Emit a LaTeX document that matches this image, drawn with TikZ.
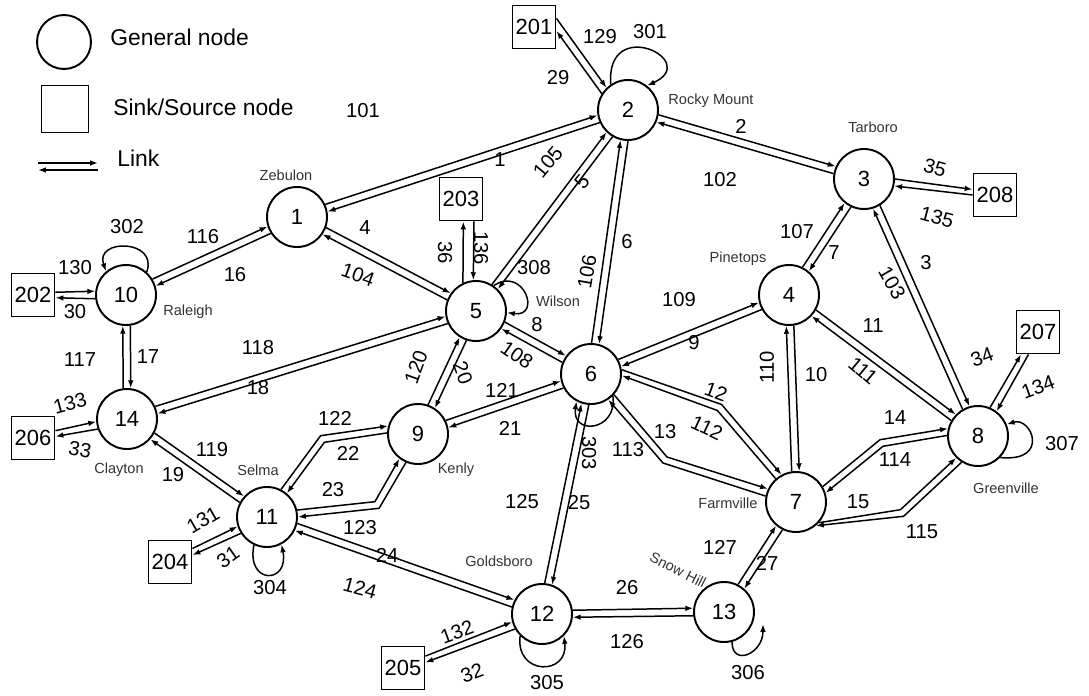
\documentclass[tikz,border=0pt]{standalone}
\usepackage{fontspec}
\setmainfont{Liberation Sans}
\usetikzlibrary{arrows.meta,calc}

\begin{document}
\begin{tikzpicture}[x=0.02cm,y=0.02cm,>={Latex[length=4.5pt,width=3.2pt]},
  town/.style={circle,draw,line width=1.1pt,minimum size=1.2cm,inner sep=0pt,font=\fontsize{12.5}{15}\selectfont},
  sink/.style={rectangle,draw,line width=1.1pt,minimum size=0.86cm,inner sep=0pt,font=\fontsize{12.5}{15}\selectfont},
  link/.style={->,line width=0.85pt},
  flow/.style={inner sep=0pt,font=\fontsize{11.5}{14}\selectfont},
  city/.style={inner sep=0pt,text=black!80,font=\fontsize{8.3}{10}\selectfont},
  key/.style={anchor=west,inner sep=0pt,font=\fontsize{13}{16}\selectfont}]
  \useasboundingbox (0,0) rectangle (1089,-696);

  \node[town,minimum size=1.08cm] (keytown) at (64,-42) {};
  \node[key] (keytowntxt) at (110,-37) {General node};
  \node[sink,minimum size=0.94cm] (keysink) at (65,-109) {};
  \node[key] (keysinktxt) at (113,-107) {Sink/Source node};
  \coordinate (keyA) at (38,-163); \coordinate (keyB) at (98,-163);
  \coordinate (keyC) at (38,-170); \coordinate (keyD) at (98,-170);
  \draw[link] (keyA) -- (keyB);
  \draw[link] (keyD) -- (keyC);
  \node[key] (keylinktxt) at (117,-158) {Link};

  \node[town] (n1) at (297,-217) {1};
  \node[town] (n2) at (628,-110) {2};
  \node[town] (n3) at (864,-179) {3};
  \node[town] (n4) at (789,-295) {4};
  \node[town] (n5) at (476,-311) {5};
  \node[town] (n6) at (591,-374) {6};
  \node[town] (n7) at (796,-502) {7};
  \node[town] (n8) at (978,-436) {8};
  \node[town] (n9) at (418,-434) {9};
  \node[town] (n10) at (126,-295) {10};
  \node[town] (n11) at (267,-517) {11};
  \node[town] (n12) at (542,-614) {12};
  \node[town] (n13) at (724,-612) {13};
  \node[town] (n14) at (127,-419) {14};
  \node[sink] (s201) at (534,-27) {201};
  \node[sink] (s202) at (33,-295) {202};
  \node[sink] (s203) at (461,-199) {203};
  \node[sink] (s204) at (170,-562) {204};
  \node[sink] (s205) at (403,-668) {205};
  \node[sink] (s206) at (33,-438) {206};
  \node[sink] (s207) at (1038,-332) {207};
  \node[sink] (s208) at (995,-195) {208};

  \node[city] (zebulon) at (286,-175) {Zebulon};
  \node[city] (rocky) at (711,-101) {Rocky Mount};
  \node[city] (tarboro) at (873,-127) {Tarboro};
  \node[city] (pinetops) at (738,-259) {Pinetops};
  \node[city] (wilson) at (558,-301) {Wilson};
  \node[city] (raleigh) at (188,-312) {Raleigh};
  \node[city] (clayton) at (119,-470) {Clayton};
  \node[city] (selma) at (258,-470) {Selma};
  \node[city] (kenly) at (456,-470) {Kenly};
  \node[city] (goldsboro) at (499,-561) {Goldsboro};
  \node[city,rotate=-27] (snowhill) at (678,-570) {Snow Hill};
  \node[city] (farmville) at (728,-503) {Farmville};
  \node[city] (greenville) at (1006,-488) {Greenville};

  \foreach \ta/\tb in {n1/n2,n2/n3,n2/n5,n2/n6,n3/n4,n3/n8,n3/s208,n1/n10,n1/n5,
      n10/s202,n10/n14,n14/n5,n14/s206,n14/n11,n5/n6,n5/n9,n6/n4,n6/n9,n6/n12,
      n4/n7,n4/n8,n8/s207,n7/n13,n12/n13,n11/s204,n11/n12,n12/s205}{
    \draw[link] let \p1=(\ta), \p2=(\tb), \n1={atan2(\y2-\y1,\x2-\x1)}, \n2={\n1+7}, \n3={\n1+173}
      in (\ta.\n2) -- (\tb.\n3);
    \draw[link] let \p1=(\ta), \p2=(\tb), \n1={atan2(\y2-\y1,\x2-\x1)}, \n2={\n1+187}, \n3={\n1-7}
      in (\tb.\n2) -- (\ta.\n3);
  }
  \draw[link] (s201.21.8) -- (n2.134.5);
  \draw[link] (n2.148) -- (s201.-10);
  \draw[link] (n5.115.7) -- (s203.-84.7);
  \draw[link] (s203.-60.8) -- (n5.95.7);

  \coordinate (b12) at (721.6,-404.5); \coordinate (b112) at (717.4,-410.5);
  \coordinate (b13) at (667,-457); \coordinate (b113) at (663,-463);
  \coordinate (b14) at (880,-439.7); \coordinate (b114) at (883,-446.3);
  \coordinate (b15) at (900.4,-509.7); \coordinate (b115) at (903.6,-516.3);
  \coordinate (b122) at (320.6,-435.7); \coordinate (b22) at (324.4,-442.3);
  \coordinate (b23) at (374.9,-501.7); \coordinate (b123) at (379.1,-508.3);
  \draw[link] (n6.8.9) -- (b12) -- (n7.118.3);
  \draw[link] (n7.131.7) -- (b112) -- (n6.-3.4);
  \draw[link] (n6.-42.3) -- (b13) -- (n7.155.2);
  \draw[link] (n7.169.2) -- (b113) -- (n6.-56.3);
  \draw[link] (n7.30.6) -- (b14) -- (n8.166.7);
  \draw[link] (n8.179.6) -- (b114) -- (n7.17.8);
  \draw[link] (n7.-42.6) -- (b15) -- (n8.225);
  \draw[link] (n8.238) -- (b115) -- (n7.-50.7);
  \draw[link] (n11.63.7) -- (b122) -- (n9.165.7);
  \draw[link] (n9.178.6) -- (b22) -- (n11.50.4);
  \draw[link] (n11.13.2) -- (b23) -- (n9.233);
  \draw[link] (n9.247) -- (b123) -- (n11.-0.8);

  \coordinate (e306) at (763,-624);
  \draw[link] (n2.124) .. controls +(-5,70) and +(55,25) .. (n2.52);
  \draw[link] (n10.48) .. controls +(12,33) and +(-12,33) .. (n10.130);
  \draw[link] (n6.-45) .. controls +(5,-35) and +(-5,-35) .. (n6.-118);
  \draw[link] (n11.-115) .. controls +(-8,-40) and +(8,-40) .. (n11.-62);
  \draw[link] (n12.-135) .. controls +(-5,-40) and +(5,-40) .. (n12.-45);
  \draw[link] (n13.-75) .. controls +(0,-25) and +(0,-30) .. (e306);
  \draw[link] (n8.-44) .. controls +(50,-5) and +(25,8) .. (n8.22);
  \draw[link] (n5.55) .. controls +(30,20) and +(35,-5) .. (n5.-3);

  \node[flow] (l101) at (363,-111) {101};
  \node[flow] (l1) at (500,-160) {1};
  \node[flow] (l129) at (600,-37) {129};
  \node[flow] (l29) at (558,-78) {29};
  \node[flow] (l301) at (650,-32) {301};
  \node[flow] (l2) at (741,-126) {2};
  \node[flow] (l102) at (720,-180) {102};
  \node[flow,rotate=50] (l105) at (548,-162) {105};
  \node[flow,rotate=50] (l5) at (582,-182) {5};
  \node[flow,rotate=80] (l106) at (587,-272) {106};
  \node[flow] (l6) at (627,-242) {6};
  \node[flow] (l107) at (797,-232) {107};
  \node[flow] (l7) at (834,-253) {7};
  \node[flow,rotate=-60] (l103) at (892,-283) {103};
  \node[flow] (l3) at (926,-263) {3};
  \node[flow,rotate=-15] (l35) at (935,-168) {35};
  \node[flow,rotate=-15] (l135) at (937,-217) {135};
  \node[flow] (l109) at (679,-300) {109};
  \node[flow] (l9) at (694,-343) {9};
  \node[flow,rotate=90] (l110) at (767,-367) {110};
  \node[flow] (l10) at (816,-375) {10};
  \node[flow] (l11) at (873,-326) {11};
  \node[flow,rotate=-40] (l111) at (863,-371) {111};
  \node[flow,rotate=20] (l34) at (982,-357) {34};
  \node[flow,rotate=20] (l134) at (1038,-387) {134};
  \node[flow] (l307) at (1062,-444) {307};
  \node[flow,rotate=-20] (l12) at (716,-392) {12};
  \node[flow,rotate=-25] (l112) at (707,-428) {112};
  \node[flow] (l13) at (665,-432) {13};
  \node[flow] (l113) at (628,-450) {113};
  \node[flow] (l14) at (895,-418) {14};
  \node[flow] (l114) at (895,-460) {114};
  \node[flow] (l15) at (858,-502) {15};
  \node[flow] (l115) at (922,-532) {115};
  \node[flow] (l127) at (720,-547) {127};
  \node[flow] (l27) at (767,-563) {27};
  \node[flow] (l26) at (627,-588) {26};
  \node[flow] (l126) at (627,-642) {126};
  \node[flow] (l306) at (748,-673) {306};
  \node[flow] (l305) at (547,-683) {305};
  \node[flow] (l125) at (522,-502) {125};
  \node[flow] (l25) at (579,-503) {25};
  \node[flow] (l121) at (502,-390) {121};
  \node[flow] (l21) at (510,-428) {21};
  \node[flow,rotate=-90] (l303) at (589,-453) {303};
  \node[flow,rotate=70] (l120) at (416,-367) {120};
  \node[flow,rotate=-70] (l20) at (463,-373) {20};
  \node[flow,rotate=-35] (l108) at (517,-355) {108};
  \node[flow] (l8) at (537,-325) {8};
  \node[flow] (l308) at (534,-268) {308};
  \node[flow,rotate=-90] (l36) at (445,-253) {36};
  \node[flow,rotate=-90] (l136) at (481,-248) {136};
  \node[flow] (l4) at (365,-228) {4};
  \node[flow,rotate=-20] (l104) at (358,-275) {104};
  \node[flow] (l116) at (203,-237) {116};
  \node[flow] (l16) at (235,-275) {16};
  \node[flow] (l302) at (127,-227) {302};
  \node[flow] (l130) at (75,-268) {130};
  \node[flow] (l30) at (75,-312) {30};
  \node[flow] (l117) at (80,-360) {117};
  \node[flow] (l17) at (148,-357) {17};
  \node[flow] (l118) at (258,-348) {118};
  \node[flow] (l18) at (258,-388) {18};
  \node[flow,rotate=15] (l133) at (70,-403) {133};
  \node[flow,rotate=-10] (l33) at (80,-450) {33};
  \node[flow] (l119) at (212,-450) {119};
  \node[flow] (l19) at (173,-475) {19};
  \node[flow,rotate=30] (l131) at (203,-520) {131};
  \node[flow,rotate=35] (l31) at (228,-557) {31};
  \node[flow] (l304) at (270,-588) {304};
  \node[flow] (l122) at (335,-418) {122};
  \node[flow] (l22) at (348,-453) {22};
  \node[flow] (l23) at (333,-490) {23};
  \node[flow] (l123) at (360,-528) {123};
  \node[flow] (l24) at (387,-555) {24};
  \node[flow,rotate=-15] (l124) at (360,-588) {124};
  \node[flow,rotate=20] (l132) at (457,-632) {132};
  \node[flow,rotate=20] (l32) at (472,-673) {32};
\end{tikzpicture}
\end{document}
